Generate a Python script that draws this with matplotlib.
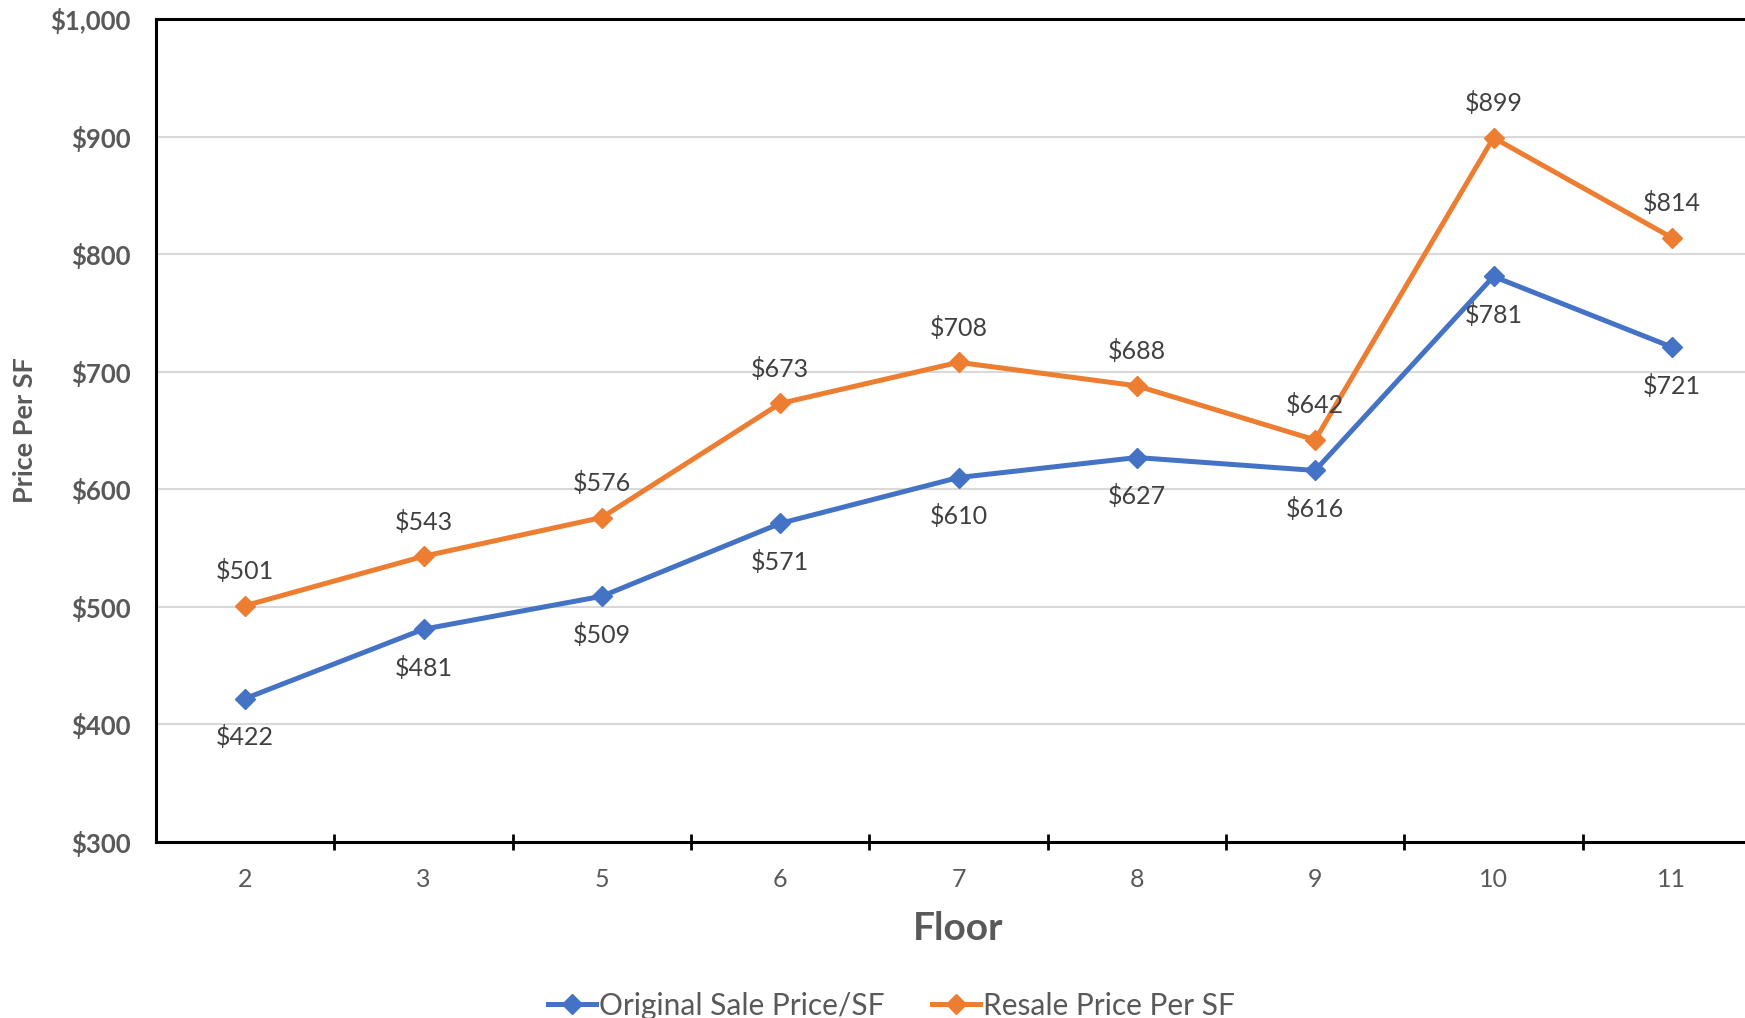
import numpy as np
import matplotlib
matplotlib.use("Agg")
import matplotlib.pyplot as plt
from matplotlib.ticker import FuncFormatter, FixedLocator

plt.rcParams['font.family'] = ['Lato', 'DejaVu Sans']

# prix au pied carré par étage
floors = ["2", "3", "5", "6", "7", "8", "9", "10", "11"]
original = [422, 481, 509, 571, 610, 627, 616, 781, 721]
resale = [501, 543, 576, 673, 708, 688, 642, 899, 814]

BLUE = "#4472C4"
ORANGE = "#ED7D31"
GREY = "#595959"
LABEL = "#404040"

fig = plt.figure(figsize=(17.45, 10.18), dpi=100)
# l'axe déborde un peu à droite (le cadre est coupé)
ax = fig.add_axes([156 / 1745, 176 / 1018, 1605 / 1745, 823 / 1018])

x = np.arange(len(floors))
ax.plot(x, original, color=BLUE, lw=3.6, marker="D", ms=10,
        label="Original Sale Price/SF", zorder=3)
ax.plot(x, resale, color=ORANGE, lw=3.6, marker="D", ms=10,
        label="Resale Price Per SF", zorder=3)

for xi, v in zip(x, original):
    ax.annotate(f"${v}", (xi, v), xytext=(0, -28), textcoords="offset points",
                ha="center", va="center", fontsize=18, color=LABEL)
for xi, v in zip(x, resale):
    ax.annotate(f"${v}", (xi, v), xytext=(0, 25), textcoords="offset points",
                ha="center", va="center", fontsize=18, color=LABEL)

ax.set_xlim(-0.5, len(floors) - 0.5)
ax.set_ylim(300, 1000)
ax.set_yticks(np.arange(300, 1001, 100))
ax.yaxis.set_major_formatter(FuncFormatter(lambda v, p: f"${v:,.0f}"))
ax.grid(axis="y", color="#d9d9d9", lw=1.5)
ax.set_axisbelow(True)

# ticks entre les catégories, libellés au centre
ax.xaxis.set_major_locator(FixedLocator(np.arange(0.5, len(floors) - 0.5, 1)))
ax.xaxis.set_major_formatter(FuncFormatter(lambda v, p: ""))
ax.xaxis.set_minor_locator(FixedLocator(x))
ax.set_xticklabels(floors, minor=True)
ax.tick_params(axis="x", which="major", direction="inout", length=11, width=2, color="black")
ax.tick_params(axis="x", which="minor", length=0, pad=19, labelsize=18, labelcolor=GREY)
ax.tick_params(axis="y", length=0, pad=18, labelsize=18.5, labelcolor=GREY)
for lbl in ax.get_yticklabels():
    lbl.set_fontweight("bold")

for side in ("left", "top", "bottom"):
    ax.spines[side].set_linewidth(2.2)
    ax.spines[side].set_color("black")
ax.spines["right"].set_visible(False)

ax.set_xlabel("Floor", fontsize=28, fontweight="bold", color=GREY, labelpad=14)
ax.set_ylabel("Price Per SF", fontsize=19.5, fontweight="bold", color=GREY, labelpad=10)

fig.legend(loc="center", bbox_to_anchor=(0.511, 0.012), ncol=2, frameon=False,
           fontsize=21.5, labelcolor=GREY, handlelength=1.6, handletextpad=0.1,
           columnspacing=1.6, markerscale=1.0)

fig.savefig("out.png", dpi=100)
